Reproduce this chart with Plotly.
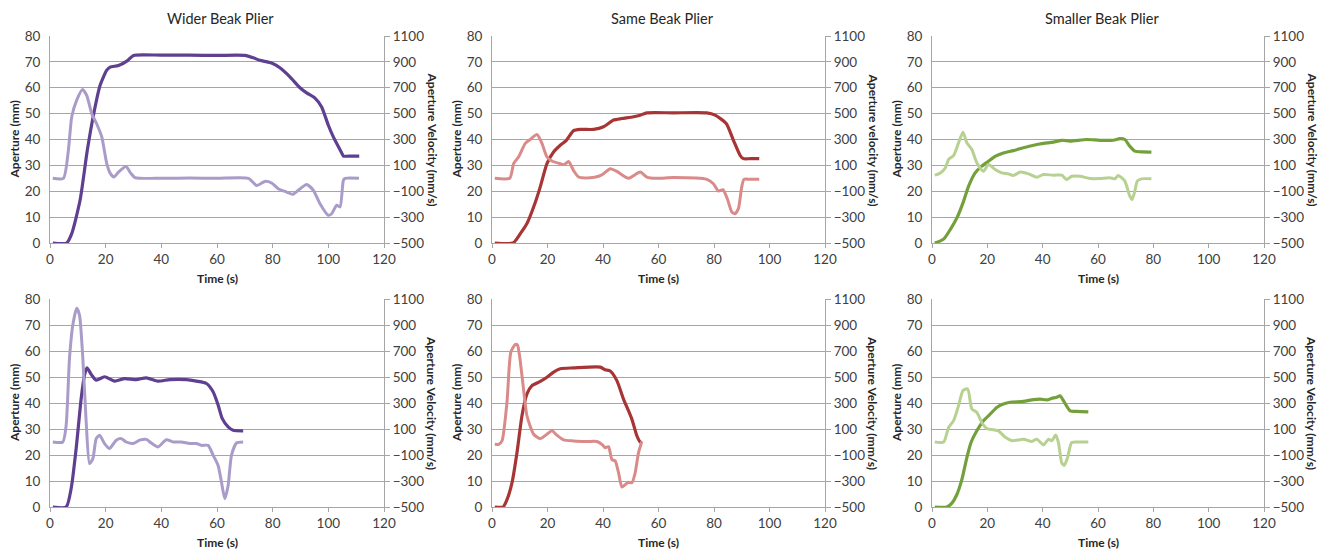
import plotly.graph_objects as go

# ---------------- data ----------------
# Wider beak plier, trial 1 (top)
wider1_ap_t = [1, 6, 7.8, 10.8, 13.4, 15.9, 18, 20.4, 21.6, 24.6, 28, 30, 40, 50, 60, 70, 73, 75.4, 79.6, 82.6, 86.2, 89.8, 92.2, 95.2, 97.6, 100, 101.8, 104.8, 105.4, 108, 111.1]
wider1_ap = [0, 0, 3.6, 16.5, 35.8, 51, 61, 66.8, 68, 68.6, 70.6, 72.5, 72.6, 72.6, 72.5, 72.5, 71.6, 70.6, 69.6, 67.7, 64.2, 60, 58, 56, 52.6, 45.5, 41, 34.8, 33.6, 33.6, 33.6]
wider1_v_t = [1, 4.8, 6.6, 7.8, 9.6, 11.7, 13.2, 15, 16.8, 18.6, 20.4, 21.6, 23, 24.6, 27.3, 29, 30.5, 40, 50, 60, 71.3, 74.3, 77.2, 79.6, 82, 85, 87.2, 89.2, 92.2, 94.6, 97, 100, 101.2, 103, 104.2, 105.4, 106, 111]
wider1_v = [0, 0, 216, 474, 604, 686, 640, 500, 420, 320, 114, 40, 10, 48, 92, 40, 6, 0, 2, 0, 0, -56, -24, -36, -80, -106, -124, -92, -48, -92, -196, -286, -274, -208, -222, -16, 0, 0]

# Same beak plier, trial 1 (top)
same1_ap_t = [1, 7.6, 10.2, 12.6, 15, 17.4, 19.8, 22.2, 24.6, 26.8, 29.4, 31.8, 36.6, 40.2, 43.8, 46.8, 51, 53.4, 55.8, 65.4, 77.4, 80.4, 84.4, 87, 89.4, 90.6, 93, 96.3]
same1_ap = [0, 0, 3.6, 7.5, 13.9, 21.7, 30.7, 35.2, 37.8, 39.7, 43.4, 43.9, 43.9, 44.9, 47.5, 48.1, 48.8, 49.4, 50.3, 50.3, 50.3, 49.4, 46.2, 39.7, 33.9, 32.6, 32.6, 32.6]
same1_v_t = [1, 6.4, 7.8, 9.6, 12, 13.8, 16.2, 18, 19.8, 21.6, 24.4, 26, 27.6, 29.4, 31.2, 35.4, 38.4, 40.2, 42.6, 45, 49.2, 53.4, 55.8, 59.4, 65.4, 77.4, 79.8, 81.6, 83.2, 84.8, 86.4, 87.6, 88.8, 90, 90.8, 93, 96.3]
same1_v = [0, 0, 114, 166, 270, 300, 338, 270, 166, 134, 114, 106, 130, 60, 10, 4, 16, 36, 74, 54, 0, 48, 10, 0, 6, -8, -42, -98, -88, -158, -260, -274, -234, -66, -8, -8, -8]

# Smaller beak plier, trial 1 (top)
small1_ap_t = [1, 4.2, 6.6, 9, 11.4, 13.2, 15.6, 18, 20.4, 22.8, 25.8, 29.4, 33, 36.7, 40.3, 43.9, 46.9, 49.9, 55.9, 60.7, 65.5, 67.9, 69.7, 71.5, 73.3, 76.3, 79.3]
small1_ap = [0, 1.5, 5.2, 9.7, 16.1, 21.9, 27.1, 29.7, 31.6, 33.5, 34.8, 35.7, 36.8, 37.8, 38.5, 39, 39.7, 39.4, 40, 39.7, 39.7, 40.3, 40, 37.4, 35.5, 35.2, 35.1]
small1_v_t = [1, 3, 4.8, 6, 7.8, 9.6, 11.2, 12.6, 14.4, 16.2, 18.6, 20.4, 22.8, 25.2, 27.6, 29.4, 31.9, 34.9, 37.9, 40.3, 43.9, 46.9, 48.7, 50.5, 53.5, 57.1, 60.7, 64.3, 66.1, 67.3, 69.7, 71.5, 72.3, 73.3, 74.2, 75.7, 79.3]
small1_v = [24, 42, 80, 146, 176, 274, 356, 274, 222, 120, 54, 106, 68, 42, 34, 22, 48, 34, 8, 30, 24, 24, -10, 16, 16, -2, -2, 4, -4, 22, -22, -138, -164, -100, -22, -4, -4]

# Wider beak plier, trial 2 (bottom)
wider2_ap_t = [1, 5.8, 7.6, 9.4, 11.2, 12.4, 13.3, 14.8, 16.6, 19.6, 23.2, 26.8, 31, 34.6, 38.8, 43, 49, 52.6, 56.2, 58.6, 60.4, 61.9, 64, 65.8, 69.4]
wider2_ap = [0, 0, 7.1, 22.5, 41.7, 50.7, 53.5, 51, 48.8, 50.1, 48.4, 49.4, 49, 49.7, 48.4, 49, 49, 48.4, 47.5, 44.3, 39.2, 34, 30.8, 29.5, 29.3]
wider2_v_t = [1, 4.6, 5.8, 7, 8.2, 9.6, 10.6, 11.8, 13, 14.2, 15.4, 16.6, 17.8, 19.6, 21.4, 23.8, 25.6, 27.4, 29.8, 32.2, 34.6, 36.4, 38.8, 41.8, 44.2, 47.2, 50.2, 52.6, 54.4, 56.8, 58.6, 60.4, 61.6, 62.8, 64, 65.2, 67, 69.4]
wider2_v = [0, 0, 128, 642, 900, 1028, 976, 642, 154, -166, -128, 26, 52, -12, -50, 14, 26, 0, -12, 14, 20, -8, -38, 18, 0, 0, -12, -12, -26, -26, -102, -180, -308, -436, -334, -102, -8, 0]

# Same beak plier, trial 2 (bottom)
same2_ap_t = [1, 4, 5.4, 7.2, 9, 10.8, 12.6, 14.4, 17.4, 19.8, 22.2, 24.6, 29.4, 39, 40.8, 42.6, 45, 47.4, 50.4, 52.2, 53.4, 54]
same2_ap = [0, 0, 2.8, 9.3, 20.9, 35.1, 43.5, 46.7, 48.3, 49.9, 51.9, 53.2, 53.5, 53.8, 52.8, 52.3, 48.6, 41.5, 33.8, 27.4, 25, 24.8]
same2_v_t = [1, 2.4, 3.6, 5.4, 6.8, 8.4, 9.2, 10.8, 12.6, 15, 17.4, 19.8, 21.6, 23.4, 25.8, 29.4, 34.2, 37.8, 39.6, 40.8, 42, 43.2, 44.4, 45.6, 46.8, 48, 49.2, 50.4, 51.6, 52.8, 54]
same2_v = [-18, -18, 8, 306, 692, 750, 744, 512, 202, 60, 26, 60, 86, 52, 16, 8, 4, 4, -18, -44, -36, -134, -146, -236, -346, -328, -310, -314, -236, -82, 4]

# Smaller beak plier, trial 2 (bottom)
small2_ap_t = [1, 5.4, 7.2, 9, 10.8, 12.6, 14.1, 16.2, 18.6, 21, 23.4, 25.8, 28.2, 33, 36.7, 39.1, 41.5, 43.3, 45.1, 46.3, 47.5, 49.9, 52.3, 56.5]
small2_ap = [0, 0, 1.5, 4.8, 10.6, 19, 24.8, 29.3, 33.2, 35.7, 38.3, 39.6, 40.3, 40.6, 41.3, 41.5, 41.2, 41.8, 42.2, 42.8, 40.9, 37, 36.8, 36.6]
small2_v_t = [1, 4.2, 6, 7.8, 9.6, 11.2, 12.9, 14.4, 16.2, 18, 19.8, 22.2, 24, 26.5, 28.9, 33.1, 36.1, 37.9, 40.3, 42.1, 43.3, 44.7, 45.7, 46.9, 47.8, 49, 50.5, 53.5, 56.5]
small2_v = [0, 0, 112, 164, 280, 396, 408, 254, 228, 150, 104, 94, 86, 36, 10, 22, 4, 22, -22, 22, 10, 54, -4, -160, -180, -120, -4, 0, 0]

titles = ["Wider Beak Plier", "Same Beak Plier", "Smaller Beak Plier"]
right_titles = ["Aperture Velocity (mm/s)", "Aperture velocity (mm/s)", "Aperture Velocity (mm/s)",
                "Aperture Velocity (mm/s)", "Aperture Velocity (mm/s)", "Aperture Velocity (mm/s)"]
left_title = "Aperture (mm)"
x_title = "Time (s)"
x_ticks = [0, 20, 40, 60, 80, 100, 120]
ap_ticks = [0, 10, 20, 30, 40, 50, 60, 70, 80]
v_ticks = [-500, -300, -100, 100, 300, 500, 700, 900, 1100]

dark_colors = ["#5f3f8f", "#a73535", "#74a03c"]
light_colors = ["#a99cc9", "#da8b89", "#b6d190"]

panels = [
    (wider1_ap_t, wider1_ap, wider1_v_t, wider1_v),
    (same1_ap_t, same1_ap, same1_v_t, same1_v),
    (small1_ap_t, small1_ap, small1_v_t, small1_v),
    (wider2_ap_t, wider2_ap, wider2_v_t, wider2_v),
    (same2_ap_t, same2_ap, same2_v_t, same2_v),
    (small2_ap_t, small2_ap, small2_v_t, small2_v),
]

# ---------------- layout geometry (screen pixels) ----------------
W, H = 1328, 549
col_px = [(50, 384), (492, 825), (932, 1264)]
row_px = [(36, 243), (299, 507)]


def px(xp):
    return xp / W


def py(yp):
    return 1 - yp / H


FONT = "Lato, 'Open Sans', sans-serif"
GRID = "#a6a6a6"
TXT = "#404040"
TITLE_C = "#262626"
TICK_SIZE = 13.5

fig = go.Figure()
layout = dict(
    template="none",
    width=W, height=H, margin=dict(l=0, r=0, t=0, b=0, pad=0),
    paper_bgcolor="white", plot_bgcolor="white", showlegend=False,
    font=dict(family=FONT, size=13, color=TXT),
)
annotations = []

for i, (at, ap, vt, vv) in enumerate(panels):
    r, c = divmod(i, 3)
    x0, x1 = col_px[c]
    ytop, ybot = row_px[r]
    xd = [px(x0), px(x1)]
    yd = [py(ybot), py(ytop)]
    xa = "x" if i == 0 else f"x{i+1}"
    ya_l = f"y{2*i+1}" if i > 0 else "y"
    ya_r = f"y{2*i+2}"
    xkey = "xaxis" if i == 0 else f"xaxis{i+1}"
    ylkey = "yaxis" if i == 0 else f"yaxis{2*i+1}"
    yrkey = f"yaxis{2*i+2}"

    layout[xkey] = dict(domain=xd, anchor=ya_l, range=[0, 120], tickvals=x_ticks, automargin=False,
                        showgrid=False, zeroline=False, showline=True, linecolor=GRID, linewidth=1,
                        ticks="outside", ticklen=4, tickcolor=GRID,
                        tickfont=dict(family=FONT, size=TICK_SIZE, color=TXT), fixedrange=True)
    layout[ylkey] = dict(domain=yd, anchor=xa, range=[0, 80], tickvals=ap_ticks, automargin=False,
                         showgrid=True, gridcolor=GRID, gridwidth=1, zeroline=False,
                         showline=True, linecolor=GRID, linewidth=1, ticks="",
                         ticklabelstandoff=6,
                         tickfont=dict(family=FONT, size=TICK_SIZE, color=TXT), fixedrange=True)
    layout[yrkey] = dict(domain=yd, anchor=xa, overlaying=ya_l, side="right", range=[-500, 1100],
                         tickvals=v_ticks, showgrid=False, zeroline=False, automargin=False,
                         showline=True, linecolor=GRID, linewidth=1,
                         ticks="outside", ticklen=5, tickcolor=GRID,
                         tickfont=dict(family=FONT, size=TICK_SIZE, color=TXT), fixedrange=True)

    fig.add_trace(go.Scatter(x=vt, y=vv, xaxis=xa, yaxis=ya_r, mode="lines",
                             line=dict(color=light_colors[c], width=3, shape="spline", smoothing=0.6),
                             hoverinfo="skip"))
    fig.add_trace(go.Scatter(x=at, y=ap, xaxis=xa, yaxis=ya_l, mode="lines",
                             line=dict(color=dark_colors[c], width=3.2, shape="spline", smoothing=0.6),
                             hoverinfo="skip"))

    cxp = (x0 + x1) / 2
    cyp = (ytop + ybot) / 2
    common = dict(xref="paper", yref="paper", showarrow=False, xanchor="center", yanchor="middle")
    if r == 0:
        annotations.append(dict(text=titles[c], x=px(cxp + 4), y=py(18),
                                font=dict(family=FONT, size=14.5, color=TITLE_C), **common))
    annotations.append(dict(text=f"<b>{x_title}</b>", x=px(cxp), y=py(ybot + 35),
                            font=dict(family=FONT, size=12, color=TITLE_C), **common))
    annotations.append(dict(text=f"<b>{left_title}</b>", x=px(x0 - 36), y=py(cyp), textangle=-90,
                            font=dict(family=FONT, size=12, color=TITLE_C), **common))
    annotations.append(dict(text=f"<b>{right_titles[i]}</b>", x=px(x1 + 48), y=py(cyp), textangle=90,
                            font=dict(family=FONT, size=12, color=TITLE_C), **common))

layout["annotations"] = annotations
fig.update_layout(**layout)

fig.write_html("out.html", config={"displayModeBar": False},
               post_script="document.body.style.margin='0';document.body.style.overflow='hidden';")
